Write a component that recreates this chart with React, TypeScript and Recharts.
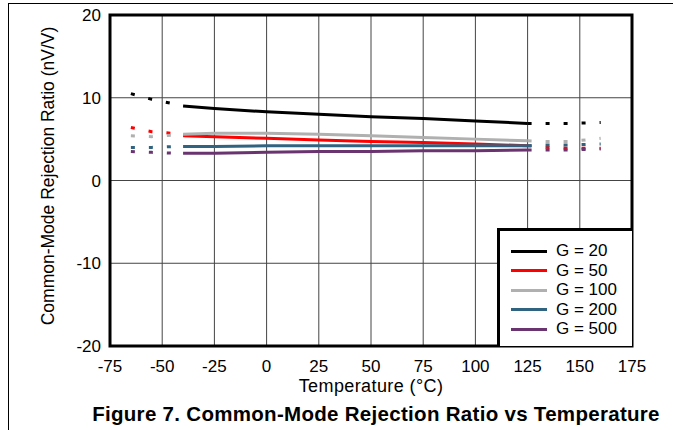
import React from 'react';
import { ComposedChart, Line, XAxis, YAxis, CartesianGrid, ReferenceArea } from 'recharts';

// temperature points (°C); -65..-40 and 125..160 are the dashed extrapolated parts
const temps = [-65, -55, -45, -40, -25, 0, 25, 50, 75, 100, 125, 135, 145, 160];

const g20 = [10.5, 9.8, 9.3, 9.0, 8.7, 8.3, 8.0, 7.7, 7.5, 7.2, 6.9, 6.9, 6.9, 7.0];
const g50 = [6.4, 5.9, 5.7, 5.4, 5.3, 5.1, 4.9, 4.7, 4.6, 4.4, 4.2, 4.0, 3.9, 3.9];
const g100 = [5.4, 5.3, 5.5, 5.6, 5.7, 5.7, 5.6, 5.4, 5.2, 5.0, 4.8, 4.7, 4.7, 5.1];
const g200 = [4.0, 4.0, 4.1, 4.1, 4.1, 4.2, 4.2, 4.2, 4.2, 4.2, 4.2, 4.3, 4.3, 4.4];
const g500 = [3.5, 3.4, 3.3, 3.3, 3.3, 3.4, 3.5, 3.5, 3.6, 3.6, 3.7, 3.7, 3.7, 3.8];

const xTicks = [-75, -50, -25, 0, 25, 50, 75, 100, 125, 150, 175];
const yTicks = [-20, -10, 0, 10, 20];

const series = [
  { name: 'G = 20', color: '#000000', values: g20 },
  { name: 'G = 50', color: '#ff0000', values: g50 },
  { name: 'G = 100', color: '#b0b0b0', values: g100 },
  { name: 'G = 200', color: '#2f6380', values: g200 },
  { name: 'G = 500', color: '#6a3470', values: g500 },
];

const LO_END = 3; // index of -40
const HI_START = 10; // index of 125

const data = temps.map((t, i) => {
  const row: any = { temp: t };
  series.forEach((s, k) => {
    row[`s${k}lo`] = i <= LO_END ? s.values[i] : null;
    row[`s${k}mid`] = i >= LO_END && i <= HI_START ? s.values[i] : null;
    row[`s${k}hi`] = i >= HI_START ? s.values[i] : null;
  });
  return row;
});

const font = '"Liberation Sans", Arial, sans-serif';

export default function App() {
  return (
    <div style={{ position: 'absolute', left: 0, top: 0, width: 673, height: 430, background: '#fff', fontFamily: font, overflow: 'hidden' }}>
      {/* page frame */}
      <div style={{ position: 'absolute', left: 8, top: 3, width: 680, height: 440, borderLeft: '1px solid #000', borderTop: '1px solid #000' }} />
      <ComposedChart
        width={673}
        height={430}
        data={data}
        margin={{ top: 15, right: 41, bottom: 54, left: 60 }}
        style={{ position: 'absolute', left: 0, top: 0 }}
      >
        <CartesianGrid stroke="#444" strokeWidth={1} />
        <XAxis
          dataKey="temp"
          type="number"
          domain={[-75, 175]}
          ticks={xTicks}
          interval={0}
          axisLine={false}
          tickLine={false}
          tickSize={0}
          tickMargin={14}
          height={30}
          tick={{ fill: '#000', fontSize: 17, fontFamily: font }}
        />
        <YAxis
          type="number"
          domain={[-20, 20]}
          ticks={yTicks}
          interval={0}
          axisLine={false}
          tickLine={false}
          tickSize={0}
          tickMargin={9}
          width={50}
          tick={{ fill: '#000', fontSize: 17, fontFamily: font }}
        />
        {series.map((s, k) => (
          <Line key={`lo${k}`} dataKey={`s${k}lo`} stroke={s.color} strokeWidth={3} strokeDasharray="4 14" dot={false} isAnimationActive={false} legendType="none" />
        ))}
        {series.map((s, k) => (
          <Line key={`mid${k}`} dataKey={`s${k}mid`} stroke={s.color} strokeWidth={3} dot={false} isAnimationActive={false} name={s.name} />
        ))}
        {series.map((s, k) => (
          <Line key={`hi${k}`} dataKey={`s${k}hi`} stroke={s.color} strokeWidth={3} strokeDasharray="4 14" dot={false} isAnimationActive={false} legendType="none" />
        ))}
        <ReferenceArea x1={-75} x2={175} y1={-20} y2={20} fill="none" stroke="#000" strokeWidth={3} ifOverflow="visible" />
      </ComposedChart>

      {/* legend */}
      <div style={{ position: 'absolute', left: 497, top: 228, width: 135, height: 118, background: '#fff', borderLeft: '3px solid #000', borderTop: '3px solid #000', boxSizing: 'border-box' }}>
        {series.map((s, k) => (
          <div key={s.name} style={{ position: 'absolute', left: 11, top: 10 + k * 19.6, height: 20, display: 'flex', alignItems: 'center' }}>
            <div style={{ width: 36, height: 3, background: s.color }} />
            <span style={{ marginLeft: 9, fontSize: 17, color: '#000', whiteSpace: 'nowrap' }}>{s.name}</span>
          </div>
        ))}
      </div>

      {/* axis titles */}
      <div style={{ position: 'absolute', left: 48, top: 176, width: 0, height: 0 }}>
        <div style={{ position: 'absolute', transform: 'translate(-50%, -50%) rotate(-90deg)', whiteSpace: 'nowrap', fontSize: 17.5, color: '#000' }}>
          Common-Mode Rejection Ratio (nV/V)
        </div>
      </div>
      <div style={{ position: 'absolute', left: 110, width: 522, top: 376, textAlign: 'center', fontSize: 18, letterSpacing: 0.4, color: '#000' }}>
        Temperature (°C)
      </div>
      <div style={{ position: 'absolute', left: 50, width: 652, top: 402, textAlign: 'center', fontSize: 20.5, letterSpacing: 0.3, fontWeight: 'bold', color: '#000', whiteSpace: 'nowrap' }}>
        Figure 7. Common-Mode Rejection Ratio vs Temperature
      </div>
    </div>
  );
}
